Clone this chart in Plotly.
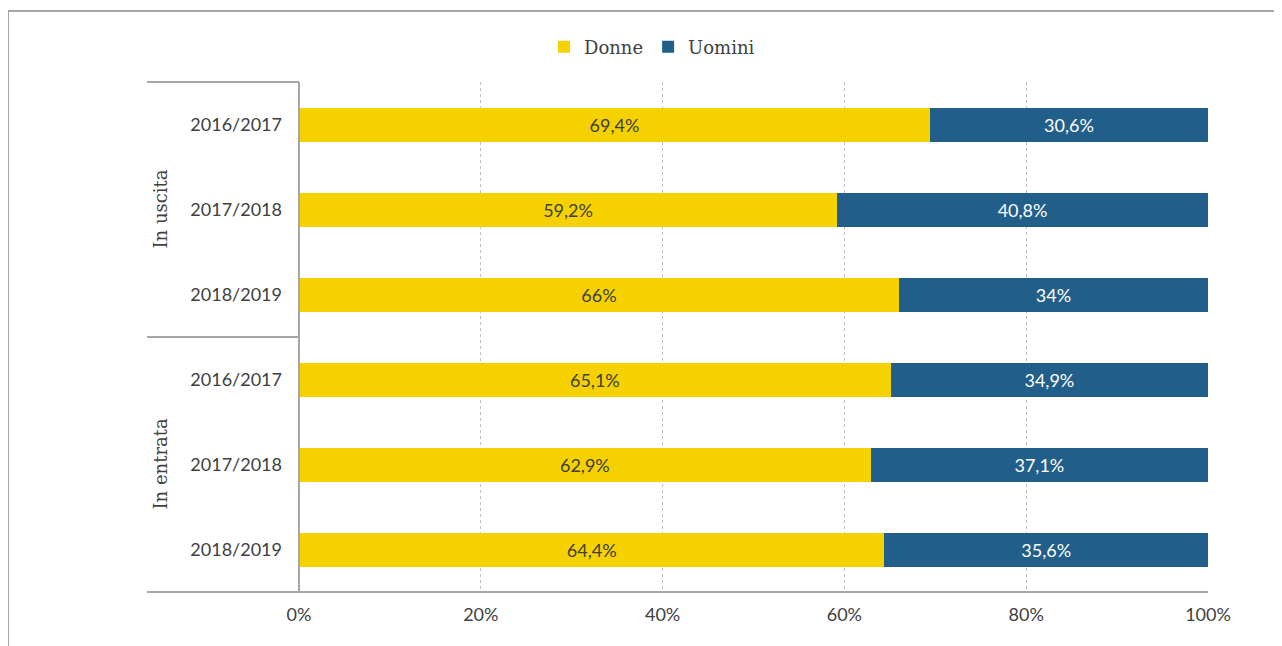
import plotly.graph_objects as go

groups = ["In uscita", "In uscita", "In uscita", "In entrata", "In entrata", "In entrata"]
years = ["2016/2017", "2017/2018", "2018/2019", "2016/2017", "2017/2018", "2018/2019"]
donne = [69.4, 59.2, 66, 65.1, 62.9, 64.4]
uomini = [30.6, 40.8, 34, 34.9, 37.1, 35.6]
x_ticks = [0, 20, 40, 60, 80, 100]
x_ticklabels = ["0%", "20%", "40%", "60%", "80%", "100%"]

keys = [g + " " + y for g, y in zip(groups, years)]


def fmt(v):
    s = ("%.1f" % v).rstrip("0").rstrip(".")
    return s.replace(".", ",") + "%"


YELLOW = "#F5D100"
BLUE = "#215E89"
TXT = "#404040"
LINE = "#A6A6A6"
SANS = "Lato, 'Open Sans', sans-serif"
SERIF = "'DejaVu Serif', serif"

fig = go.Figure()
fig.add_trace(go.Bar(
    y=keys, x=donne, name="Donne", orientation="h",
    marker=dict(color=YELLOW, line=dict(width=0)),
    text=[fmt(v) for v in donne], textposition="inside", insidetextanchor="middle",
    textfont=dict(color=TXT, size=18, family=SANS), width=0.4,
    hoverinfo="skip",
))
fig.add_trace(go.Bar(
    y=keys, x=uomini, name="Uomini", orientation="h",
    marker=dict(color=BLUE, line=dict(width=0)),
    text=[fmt(v) for v in uomini], textposition="inside", insidetextanchor="middle",
    textfont=dict(color="white", size=18, family=SANS), width=0.4,
    hoverinfo="skip",
))

OFF = 8  # page body margin
W, H = 1282, 646
L, R, T, B = 299 - OFF, 1208 - OFF, 82 - OFF, 592 - OFF
pw, ph = R - L, B - T


def px(x):
    return (x - OFF - L) / pw


def py(y):
    return (B - (y - OFF)) / ph


shapes = []
shapes.append(dict(type="line", xref="paper", yref="paper", x0=0, x1=0, y0=0, y1=1,
                   line=dict(color=LINE, width=2)))
for yy in [1, 0.5, 0]:
    shapes.append(dict(type="line", xref="paper", yref="paper", x0=px(147), x1=0 if yy != 0 else 1,
                       y0=yy, y1=yy, line=dict(color=LINE, width=2)))
# frame
shapes.append(dict(type="line", xref="paper", yref="paper", x0=px(8), x1=px(1300), y0=py(11), y1=py(11),
                   line=dict(color=LINE, width=2)))
shapes.append(dict(type="line", xref="paper", yref="paper", x0=px(8), x1=px(8), y0=py(11), y1=py(700),
                   line=dict(color=LINE, width=2)))

annotations = [
    dict(text="In uscita", xref="paper", yref="paper", x=px(160), y=0.75, textangle=-90,
         xanchor="center", yanchor="middle",
         showarrow=False, font=dict(family=SERIF, size=18, color=TXT)),
    dict(text="In entrata", xref="paper", yref="paper", x=px(160), y=0.25, textangle=-90,
         xanchor="center", yanchor="middle",
         showarrow=False, font=dict(family=SERIF, size=18, color=TXT)),
]

fig.update_layout(
    width=W, height=H,
    margin=dict(l=L, r=W - R, t=T, b=H - B, autoexpand=False),
    barmode="stack", bargap=0.6,
    paper_bgcolor="white", plot_bgcolor="white",
    showlegend=True,
    legend=dict(orientation="h", x=px(652), y=py(47), xanchor="center", yanchor="middle",
                font=dict(family=SERIF, size=18, color=TXT), traceorder="normal",
                itemwidth=30, tracegroupgap=0),
    xaxis=dict(range=[0, 100], tickvals=x_ticks, ticktext=x_ticklabels,
               showgrid=True, gridcolor="#BFBFBF", griddash="dot", gridwidth=1,
               zeroline=False, showline=False, ticks="", ticklen=0,
               ticklabelstandoff=10,
               tickfont=dict(family=SANS, size=18, color=TXT), fixedrange=True),
    yaxis=dict(type="category", categoryorder="array", categoryarray=keys,
               tickvals=keys, ticktext=years, autorange="reversed",
               showgrid=False, zeroline=False, showline=False, ticks="",
               ticklabelstandoff=16,
               tickfont=dict(family=SANS, size=18, color=TXT), fixedrange=True),
    shapes=shapes, annotations=annotations,
)

fig.write_html("out.html")
